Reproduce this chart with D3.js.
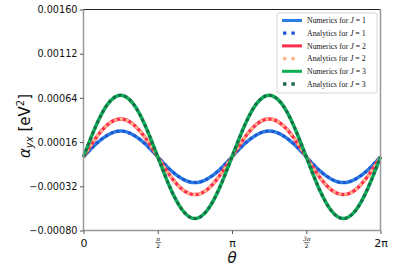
<!DOCTYPE html>
<html>
<head>
<meta charset="utf-8">
<script src="https://cdn.jsdelivr.net/npm/d3@7"></script>
<style>
  body { margin: 0; background: #fff; }
  svg { display: block; }
</style>
</head>
<body>
<script>
// theta samples, in units of pi (step pi/12)
const thetaPi = d3.range(0, 25).map(k => k / 12);

// values (eV^2)
const numJ1 = [0, 0.00014, 0.00024, 0.00028, 0.00024, 0.00014, 0, -0.00014, -0.00024, -0.00028, -0.00024, -0.00014,
               0, 0.00014, 0.00024, 0.00028, 0.00024, 0.00014, 0, -0.00014, -0.00024, -0.00028, -0.00024, -0.00014, 0];
const numJ2 = [0, 0.000205, 0.000355, 0.00041, 0.000355, 0.000205, 0, -0.000205, -0.000355, -0.00041, -0.000355, -0.000205,
               0, 0.000205, 0.000355, 0.00041, 0.000355, 0.000205, 0, -0.000205, -0.000355, -0.00041, -0.000355, -0.000205, 0];
const numJ3 = [0, 0.000335, 0.00058, 0.00067, 0.00058, 0.000335, 0, -0.000335, -0.00058, -0.00067, -0.00058, -0.000335,
               0, 0.000335, 0.00058, 0.00067, 0.00058, 0.000335, 0, -0.000335, -0.00058, -0.00067, -0.00058, -0.000335, 0];
const anaJ1 = numJ1;
const anaJ2 = numJ2;
const anaJ3 = numJ3;

const yTicks = [-0.0008, -0.00032, 0.00016, 0.00064, 0.00112, 0.0016];
const xTicks = [0, 0.5, 1, 1.5, 2];
const xTickLabels = ["0", ["π", "2"], "π", ["3π", "2"], "2π"];

const series = [
  { name: "Numerics for ", j: "1", vals: numJ1, color: "#2a80e0", dash: null },
  { name: "Analytics for ", j: "1", vals: anaJ1, color: "#1f55d6", dash: "3,3" },
  { name: "Numerics for ", j: "2", vals: numJ2, color: "#ff2d50", dash: null },
  { name: "Analytics for ", j: "2", vals: anaJ2, color: "#ffb585", dash: "3,3" },
  { name: "Numerics for ", j: "3", vals: numJ3, color: "#0bb055", dash: null },
  { name: "Analytics for ", j: "3", vals: anaJ3, color: "#1c6b4c", dash: "3,3" }
];

const W = 394, H = 270;
const m = { left: 83.5, right: 13.5, top: 9.5, bottom: 39.5 };

const svg = d3.select("body").append("svg")
    .attr("width", W)
    .attr("height", H);

const x = d3.scaleLinear().domain([0, 2]).range([m.left, W - m.right]);
const y = d3.scaleLinear().domain([-0.0008, 0.0016]).range([H - m.bottom, m.top]);

// curves
const line = d3.line()
    .x((d, i) => x(thetaPi[i]))
    .y(d => y(d))
    .curve(d3.curveNatural);

const plot = svg.append("g");
for (let s of series) {
  plot.append("path")
      .datum(s.vals)
      .attr("d", line)
      .attr("fill", "none")
      .attr("stroke", s.color)
      .attr("stroke-width", s.dash ? 3 : 3.5)
      .attr("stroke-dasharray", s.dash);
}

// spines
svg.append("line").attr("x1", m.left).attr("x2", W - m.right).attr("y1", m.top).attr("y2", m.top)
    .attr("stroke", "#222").attr("stroke-width", 1.2);
svg.append("line").attr("x1", W - m.right).attr("x2", W - m.right).attr("y1", m.top).attr("y2", H - m.bottom)
    .attr("stroke", "#999").attr("stroke-width", 1.5);
svg.append("line").attr("x1", m.left).attr("x2", m.left).attr("y1", m.top).attr("y2", H - m.bottom)
    .attr("stroke", "#999").attr("stroke-width", 1.5);
svg.append("line").attr("x1", m.left).attr("x2", W - m.right).attr("y1", H - m.bottom).attr("y2", H - m.bottom)
    .attr("stroke", "#999").attr("stroke-width", 1.5);

// y axis
const yAxis = svg.append("g")
    .attr("transform", `translate(${m.left},0)`)
    .call(d3.axisLeft(y).tickValues(yTicks).tickSize(3.5).tickPadding(2.5)
      .tickFormat(d => d3.format(".5f")(d).replace("-", "\u2212")));
yAxis.select(".domain").remove();
yAxis.selectAll("line").attr("stroke", "#555");
yAxis.selectAll("text").attr("font-family", "DejaVu Sans").attr("font-size", 9.7).attr("fill", "#111");

// x axis
const xAxis = svg.append("g")
    .attr("transform", `translate(0,${H - m.bottom})`)
    .call(d3.axisBottom(x).tickValues(xTicks).tickSize(3.5).tickFormat(""));
xAxis.select(".domain").remove();
xAxis.selectAll("line").attr("stroke", "#555");
xAxis.selectAll(".tick").each(function (d, i) {
  const g = d3.select(this);
  const lab = xTickLabels[i];
  if (typeof lab === "string") {
    g.append("text").attr("y", 16).attr("text-anchor", "middle")
      .attr("font-family", "DejaVu Sans").attr("font-size", 11).attr("fill", "#111")
      .text(lab);
  } else {
    g.append("text").attr("y", 10.5).attr("text-anchor", "middle")
      .attr("font-family", "DejaVu Serif").attr("font-style", "italic").attr("font-size", 6).attr("fill", "#111")
      .text(lab[0]);
    g.append("line").attr("x1", -3).attr("x2", 3).attr("y1", 12).attr("y2", 12)
      .attr("stroke", "#111").attr("stroke-width", 0.5);
    g.append("text").attr("y", 17.5).attr("text-anchor", "middle")
      .attr("font-family", "DejaVu Sans").attr("font-size", 6).attr("fill", "#111")
      .text(lab[1]);
  }
});

// axis labels
svg.append("text")
    .attr("x", x(1)).attr("y", 263)
    .attr("text-anchor", "middle")
    .attr("font-family", "DejaVu Sans").attr("font-style", "italic").attr("font-size", 15).attr("fill", "#111")
    .text("θ");

const yl = svg.append("text")
    .attr("transform", "translate(30,126) rotate(-90)")
    .attr("text-anchor", "middle")
    .attr("font-family", "DejaVu Sans").attr("font-size", 15).attr("fill", "#111");
yl.append("tspan").attr("font-style", "italic").text("α");
yl.append("tspan").attr("font-style", "italic").attr("font-size", 10).attr("dy", 3).text("yx");
yl.append("tspan").attr("dy", -3).text(" [eV");
yl.append("tspan").attr("font-size", 10).attr("dy", -6).text("2");
yl.append("tspan").attr("dy", 6).text("]");

// legend
const leg = svg.append("g").attr("transform", "translate(277,13)");
leg.append("rect").attr("width", 100).attr("height", 80).attr("rx", 2)
    .attr("fill", "#fff").attr("fill-opacity", 0.85).attr("stroke", "#ccc").attr("stroke-width", 0.8);
series.forEach((s, i) => {
  const yy = 7.5 + i * 12.7;
  leg.append("line").attr("x1", 5).attr("x2", 25).attr("y1", yy).attr("y2", yy)
    .attr("stroke", s.color).attr("stroke-width", s.dash ? 3.3 : 3)
    .attr("stroke-dasharray", s.dash ? "3.4,5,3.4,40" : null)
    .attr("stroke-dashoffset", s.dash ? -1 : null);
  const t = leg.append("text").attr("x", 30).attr("y", yy + 2.6)
    .attr("font-family", "Liberation Serif").attr("font-size", 7.8).attr("fill", "#111");
  t.append("tspan").text(s.name);
  t.append("tspan").attr("font-style", "italic").text("J");
  t.append("tspan").text(" = " + s.j);
});
</script>
</body>
</html>
